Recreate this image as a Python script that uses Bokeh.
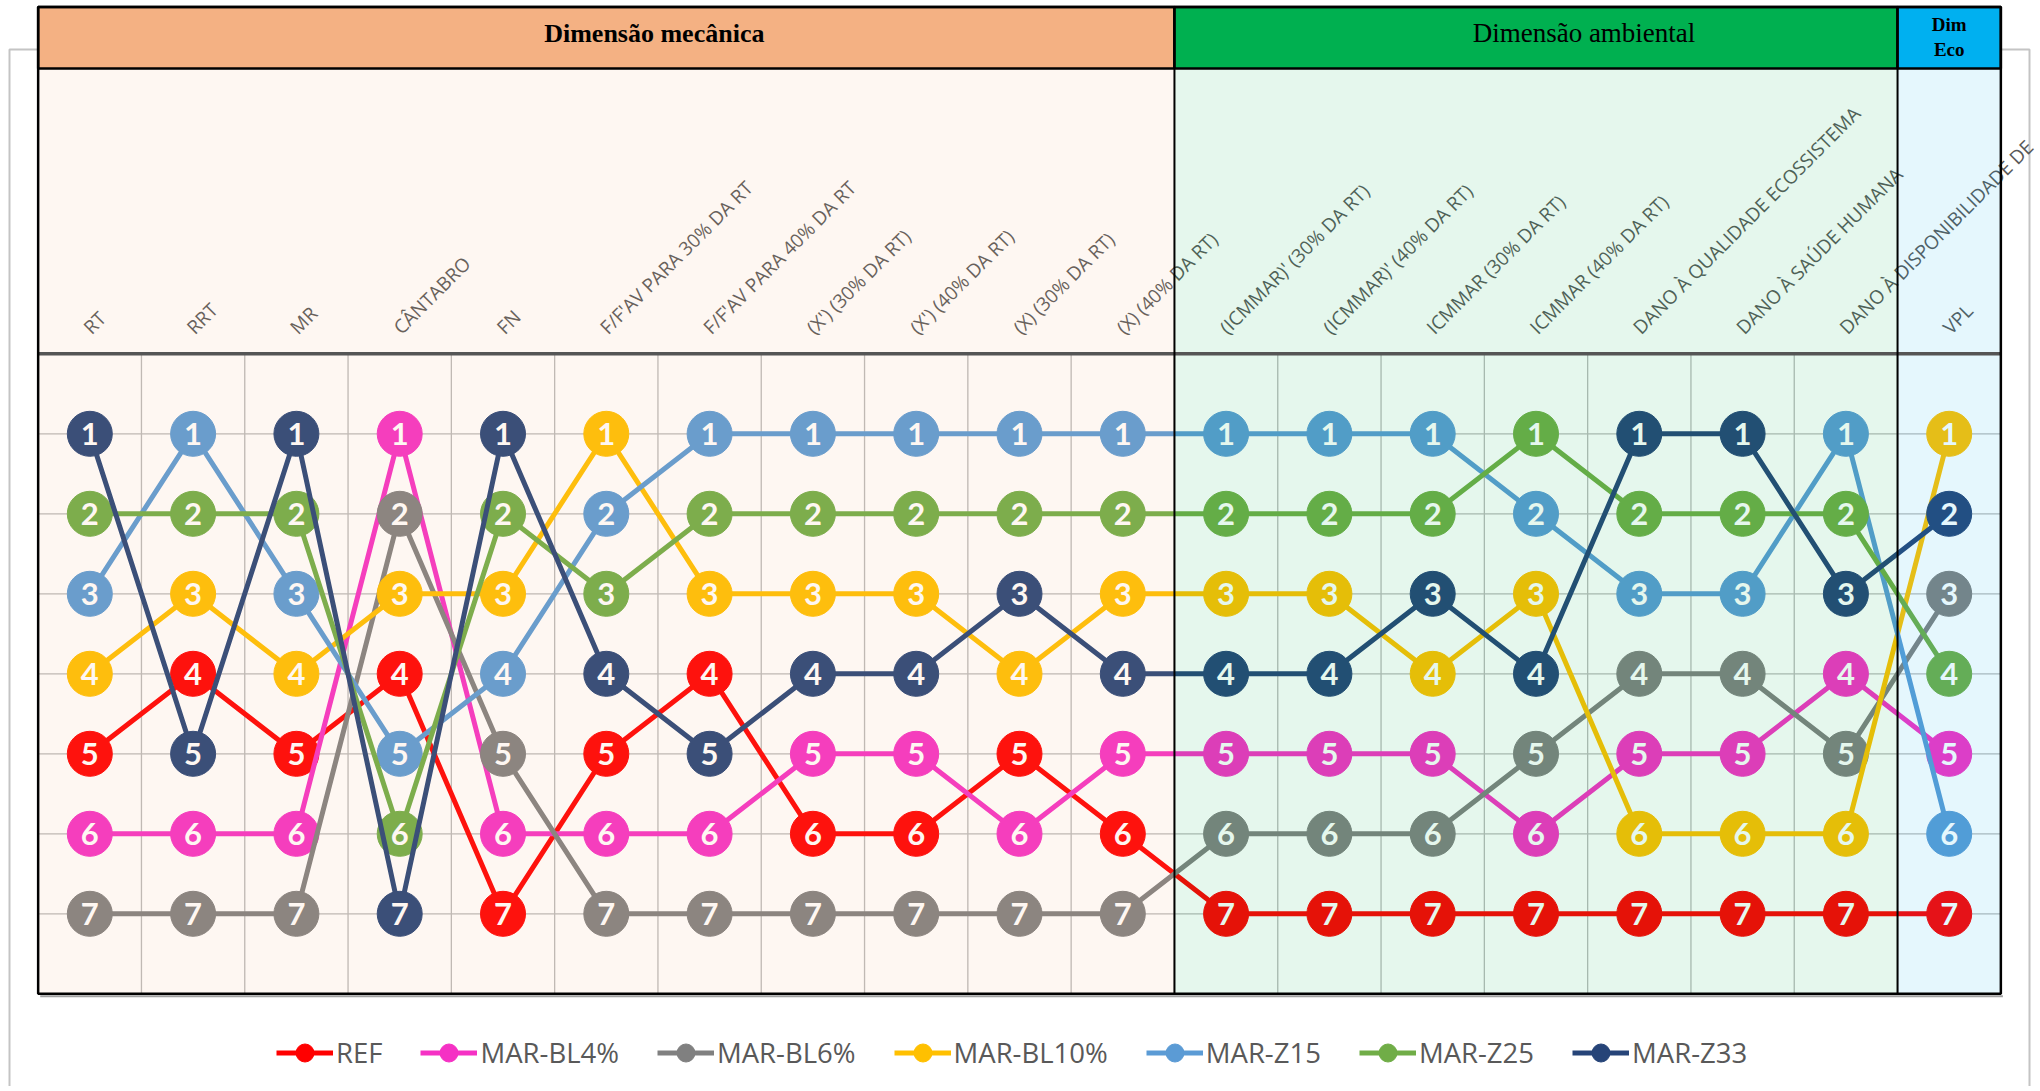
import numpy as np
from bokeh.plotting import figure
from bokeh.models import Range1d, ColumnDataSource, Legend, LegendItem
from bokeh.core.properties import value
from bokeh.embed import file_html
from bokeh.resources import INLINE

# ---------------- data ----------------
categories = ["RT", "RRT", "MR", "CÂNTABRO", "FN",
              "F/F'AV PARA 30% DA RT", "F/F'AV PARA 40% DA RT",
              "(X') (30% DA RT)", "(X') (40% DA RT)",
              "(X) (30% DA RT)", "(X) (40% DA RT)",
              "(ICMMAR)' (30% DA RT)", "(ICMMAR)' (40% DA RT)",
              "ICMMAR (30% DA RT)", "ICMMAR (40% DA RT)",
              "DANO À QUALIDADE ECOSSISTEMA", "DANO À SAÚDE HUMANA",
              "DANO À DISPONIBILIDADE DE", "VPL"]

series_names = ["REF", "MAR-BL4%", "MAR-BL6%", "MAR-BL10%", "MAR-Z15", "MAR-Z25", "MAR-Z33"]
ref   = [5, 4, 5, 4, 7, 5, 4, 6, 6, 5, 6, 7, 7, 7, 7, 7, 7, 7, 7]
bl4   = [6, 6, 6, 1, 6, 6, 6, 5, 5, 6, 5, 5, 5, 5, 6, 5, 5, 4, 5]
bl6   = [7, 7, 7, 2, 5, 7, 7, 7, 7, 7, 7, 6, 6, 6, 5, 4, 4, 5, 3]
bl10  = [4, 3, 4, 3, 3, 1, 3, 3, 3, 4, 3, 3, 3, 4, 3, 6, 6, 6, 1]
z15   = [3, 1, 3, 5, 4, 2, 1, 1, 1, 1, 1, 1, 1, 1, 2, 3, 3, 1, 6]
z25   = [2, 2, 2, 6, 2, 3, 2, 2, 2, 2, 2, 2, 2, 2, 1, 2, 2, 2, 4]
z33   = [1, 5, 1, 7, 1, 4, 5, 4, 4, 3, 4, 4, 4, 3, 4, 1, 1, 3, 2]
series_values = [ref, bl4, bl6, bl10, z15, z25, z33]
series_colors = ["#FF0000", "#F531C4", "#808080", "#FFC000", "#5B9BD5", "#70AD47", "#264478"]

sections = ["Dimensão mecânica", "Dimensão ambiental", "Dim\nEco"]
section_sizes = [11, 7, 1]
section_colors = ["#F4B183", "#00B050", "#00B0F0"]
ranks = [1, 2, 3, 4, 5, 6, 7]

# ---------------- geometry ----------------
W, H = 2040, 1086
PX_X, PX_Y = 103.3, 80.0          # pixels per category / per rank
X0, Y0 = 89.3, 353.3              # canvas position of category 0 / rank 0
x_start = -X0 / PX_X
x_end = x_start + W / PX_X
y_top = -Y0 / PX_Y
y_bot = y_top + H / PX_Y

def yc(cpx):
    return (cpx - Y0) / PX_Y

def xc(cpx):
    return (cpx - X0) / PX_X

n = len(categories)
LEFT, RIGHT = -0.5, n - 0.5
PLOT_TOP, PLOT_BOT = 0.0, 8.0
HEAD_TOP, HEAD_BOT = yc(6.5), yc(68)

p = figure(width=W, height=H, output_backend="svg", toolbar_location=None,
           x_range=Range1d(x_start, x_end), y_range=Range1d(y_bot, y_top),
           x_axis_location=None, y_axis_location=None, min_border=0)
p.grid.visible = False
p.outline_line_alpha = 0
p.background_fill_color = "white"
p.border_fill_color = "white"

# faint chart-area border
p.quad(left=[xc(9)], right=[xc(2029)], top=[yc(49)], bottom=[yc(H + 20)],
       fill_alpha=0, line_color="#C4C4C4", line_width=2)

# grid
p.segment(x0=[i + 0.5 for i in range(n - 1)], x1=[i + 0.5 for i in range(n - 1)],
          y0=[PLOT_TOP] * (n - 1), y1=[PLOT_BOT] * (n - 1),
          line_color="#BABABA", line_width=1.3)
p.segment(x0=[LEFT] * len(ranks), x1=[RIGHT] * len(ranks), y0=ranks, y1=ranks,
          line_color="#BABABA", line_width=1.3)

# category labels
p.text(x=list(range(n)), y=[yc(330)] * n, text=categories, angle=np.pi / 4,
       x_offset=-3, text_align="left", text_baseline="alphabetic",
       text_font=value("Open Sans"), text_font_size="19px", text_color="#595959")

# series
items = []
srcs = []
for name, vals, col in zip(series_names, series_values, series_colors):
    src = ColumnDataSource(dict(x=list(range(n)), y=vals, t=[str(v) for v in vals]))
    srcs.append(src)
    lr = p.line("x", "y", source=src, line_color=col, line_width=5, line_join="round")
    sr = p.scatter("x", "y", source=src, size=45, fill_color=col, line_color=col, line_width=1)
    items.append(LegendItem(label=name, renderers=[lr, sr]))
for src in srcs:
    p.text("x", "y", text="t", source=src, text_align="center", text_baseline="middle",
           text_font=value("Lato"), text_font_style="bold", text_font_size="31px",
           text_color="white")

# section tints and header boxes
edges = np.concatenate([[0], np.cumsum(section_sizes)]) - 0.5
p.quad(left=edges[:-1], right=edges[1:], top=[HEAD_BOT] * 3, bottom=[PLOT_BOT] * 3,
       fill_color=section_colors, fill_alpha=0.1, line_alpha=0)
p.quad(left=edges[:-1], right=edges[1:], top=[HEAD_TOP] * 3, bottom=[HEAD_BOT] * 3,
       fill_color=section_colors, line_color="black", line_width=2.5)

# frame lines
p.line(x=[LEFT, RIGHT], y=[PLOT_TOP, PLOT_TOP], line_color="#555555", line_width=3.5)
p.segment(x0=edges[1:-1], x1=edges[1:-1], y0=[HEAD_TOP] * 2, y1=[PLOT_BOT] * 2,
          line_color="black", line_width=2)
p.line(x=[LEFT + 0.02, RIGHT + 0.02], y=[PLOT_BOT + 0.03, PLOT_BOT + 0.03],
       line_color="#A0A0A0", line_width=2)
p.quad(left=[LEFT], right=[RIGHT], top=[HEAD_TOP], bottom=[PLOT_BOT],
       fill_alpha=0, line_color="black", line_width=2.5)

# header texts
hx = (edges[:-1] + edges[1:]) / 2
p.text(x=hx[:1], y=[yc(32.5)], text=sections[:1], x_offset=48, text_align="center",
       text_baseline="middle", text_font=value("Liberation Serif"), text_font_style="bold",
       text_font_size="26px", text_color="black")
p.text(x=hx[1:2], y=[yc(32.5)], text=sections[1:2], x_offset=48, text_align="center",
       text_baseline="middle", text_font=value("Liberation Serif"),
       text_font_size="27px", text_color="black")
p.text(x=hx[2:], y=[yc(36.5)], text=sections[2:], text_align="center",
       text_baseline="middle", text_font=value("Liberation Serif"), text_font_style="bold",
       text_font_size="19px", text_color="black", text_line_height=1.2)

legend = Legend(items=items, orientation="horizontal", location=(276, 11),
                glyph_width=57, glyph_height=45, label_standoff=3, spacing=38,
                label_text_font="Open Sans", label_text_font_size="27.5px",
                label_text_color="#595959", padding=0, margin=0,
                border_line_alpha=0, background_fill_alpha=0)
p.add_layout(legend)

open("out.html", "w").write(file_html(p, INLINE))
